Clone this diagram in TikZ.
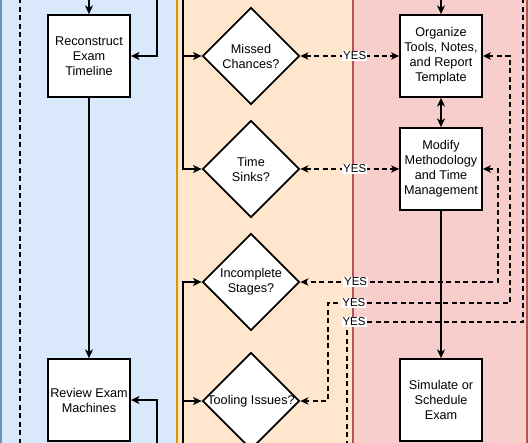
\documentclass[tikz,border=0pt]{standalone}
\usepackage{fontspec}
\setmainfont{Liberation Sans}
\usetikzlibrary{shapes.geometric,arrows.meta}
\tikzset{every picture/.style={line width=0.75pt}}

\definecolor{laneblue}{RGB}{218,232,252}
\definecolor{laneblueline}{RGB}{108,142,191}
\definecolor{laneorange}{RGB}{255,230,204}
\definecolor{laneorangeline}{RGB}{215,155,0}
\definecolor{lanered}{RGB}{248,206,204}
\definecolor{laneredline}{RGB}{184,84,80}

\begin{document}
\begin{tikzpicture}[x=0.75pt,y=0.75pt,yscale=-1,xscale=1,
  taskbox/.style={draw,fill=white,line width=1.3pt,minimum width=61.5pt,minimum height=61.5pt,inner sep=0pt,align=center,font=\fontsize{9.5}{11.25}\selectfont},
  decision/.style={diamond,draw,fill=white,line width=1.3pt,minimum width=72.75pt,minimum height=72.75pt,inner sep=0pt},
  question/.style={align=center,inner sep=0pt,font=\fontsize{9.5}{11.25}\selectfont},
  flow/.style={line width=1.3pt,-{Stealth[length=6.5pt,width=6pt,inset=1.8pt]}},
  twoway/.style={line width=1.3pt,{Stealth[length=6.5pt,width=6pt,inset=1.8pt]}-{Stealth[length=6.5pt,width=6pt,inset=1.8pt]}},
  yesflow/.style={line width=1pt,dash pattern={on 3.75pt off 2.6pt},{Stealth[length=6pt,width=5.5pt,inset=1.6pt]}-{Stealth[length=6pt,width=5.5pt,inset=1.6pt]}},
  loopline/.style={line width=1pt,dash pattern={on 3.75pt off 2.6pt}},
  yes/.style={fill=white,inner sep=0.8pt,font=\fontsize{8.6}{9}\selectfont}]
\useasboundingbox (0,0) rectangle (531,442);
\clip (0,0) rectangle (531,442);

%Shape: Lanes
\draw [draw=laneblueline,fill=laneblue,line width=1.5pt] (1,-20) rectangle (177,470);
\draw [draw=laneorangeline,fill=laneorange,line width=1.5pt] (177,-20) rectangle (353,470);
\draw [draw=laneredline,fill=lanered,line width=1.3pt] (353,-20) rectangle (527,470);
\draw [draw=laneredline,fill=lanered,line width=1.3pt] (527,-20) rectangle (700,470);

%Shape: Steps
\node [taskbox] (recon) at (89,56) {Reconstruct\\Exam\\Timeline};
\node [taskbox] (review) at (89,400) {Review Exam\\Machines};
\node [taskbox] (organize) at (441,56) {Organize\\Tools, Notes,\\and Report\\Template};
\node [taskbox] (modify) at (441,169) {Modify\\Methodology\\and Time\\Management};
\node [taskbox] (simulate) at (441,400) {Simulate or\\Schedule\\Exam};

%Flowchart: Decision
\node [decision] (missed) at (251,56) {};
\node [decision] (sinks) at (251,169) {};
\node [decision] (incomplete) at (251,282) {};
\node [decision] (tooling) at (251,401) {};
% Text Node
\node [question] (missed-t) at (missed) {Missed\\Chances?};
\node [question] (sinks-t) at (sinks) {Time\\Sinks?};
\node [question] (incomplete-t) at (incomplete) {Incomplete\\Stages?};
\node [question] (tooling-t) at (tooling) {Tooling Issues?};

%Free ends
\coordinate (recon-in) at (89,-10);
\coordinate (recon-back) at (157,-10);
\coordinate (review-back) at (157,460);
\coordinate (checks-in) at (183,-10);
\coordinate (checks-back) at (183,460);
\coordinate (organize-in) at (441,-10);
\coordinate (loop-top) at (523,-10);
\coordinate (loop-bot) at (347,460);
\coordinate (rev-top) at (20,-10);
\coordinate (rev-bot) at (20,460);

%Straight Lines
\draw [flow] (recon-in) -- (recon.north);
\draw [flow] (recon-back) |- (recon.east);
\draw [flow] (recon) -- (review);
\draw [flow] (review-back) |- (review.east);
\draw [flow] (checks-in) |- (missed.west);
\draw [flow] (checks-in) |- (sinks.west);
\draw [flow] (checks-back) |- (incomplete.west);
\draw [flow] (checks-back) |- (tooling.west);
\draw [flow] (organize-in) -- (organize.north);
\draw [twoway] (organize) -- (modify);
\draw [flow] (modify) -- (simulate);
\draw [loopline] (rev-top) -- (rev-bot);

%Dashed Lines
\draw [yesflow] (missed.east) -- node [yes,pos=0.55] {YES} (organize.west);
\draw [yesflow] (sinks.east) -- node [yes,pos=0.55] {YES} (modify.west);
\draw [yesflow] (modify.east) -- ++(15,0) -- ++(0,113) -- node [yes,pos=0.72] {YES} (incomplete.east);
\draw [yesflow] (organize.east) -- ++(27,0) -- ++(0,247) -- node [yes,pos=0.857] {YES} ++(-182,0) |- (tooling.east);
\draw [loopline] (loop-top) -- ++(0,332) -- node [yes,pos=0.96] {YES} ++(-176,0) -- (loop-bot);

\end{tikzpicture}
\end{document}
